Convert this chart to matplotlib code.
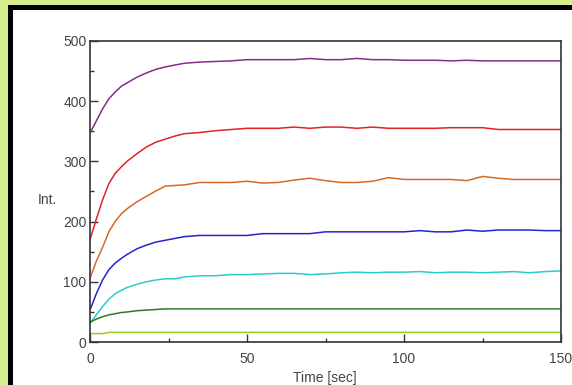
import matplotlib.pyplot as plt
from matplotlib.patches import Rectangle
from matplotlib.ticker import MultipleLocator

plt.rcParams["font.family"] = ["Liberation Sans", "DejaVu Sans"]

# tiempos de muestreo [sec]
tiempo = [0, 2, 4, 6, 8, 10, 12, 15, 18, 21, 24, 27, 30, 35, 40, 45, 50, 55, 60,
          65, 70, 75, 80, 85, 90, 95, 100, 105, 110, 115, 120, 125, 130, 135, 140, 145, 150]

# intensidades
morado = [347, 367, 387, 404, 415, 425, 431, 440, 447, 453, 457, 460, 463, 465, 466, 467, 469, 469, 469,
          469, 471, 469, 469, 471, 469, 469, 468, 468, 468, 467, 468, 467, 467, 467, 467, 467, 467]
rojo = [170, 204, 236, 263, 280, 291, 301, 313, 324, 332, 337, 342, 346, 348, 351, 353, 355, 355, 355,
        357, 355, 357, 357, 355, 357, 355, 355, 355, 355, 356, 356, 356, 353, 353, 353, 353, 353]
naranja = [106, 134, 157, 183, 200, 213, 222, 233, 242, 251, 259, 260, 261, 265, 265, 265, 267, 264, 265,
           269, 272, 268, 265, 265, 267, 273, 270, 270, 270, 270, 268, 275, 272, 270, 270, 270, 270]
azul = [53, 80, 103, 120, 131, 139, 146, 155, 161, 166, 169, 172, 175, 177, 177, 177, 177, 180, 180,
        180, 180, 183, 183, 183, 183, 183, 183, 185, 183, 183, 186, 184, 186, 186, 186, 185, 185]
cian = [31, 45, 59, 71, 80, 86, 91, 96, 100, 103, 105, 105, 108, 110, 110, 112, 112, 113, 114,
        114, 112, 113, 115, 116, 115, 116, 116, 117, 115, 116, 116, 115, 116, 117, 115, 117, 118]
verde = [33, 38, 42, 45, 47, 49, 50, 52, 53, 54, 55, 55, 55, 55, 55, 55, 55, 55, 55,
         55, 55, 55, 55, 55, 55, 55, 55, 55, 55, 55, 55, 55, 55, 55, 55, 55, 55]
amarillo = [14, 14, 14, 16, 16, 16, 16, 16, 16, 16, 16, 16, 16, 16, 16, 16, 16, 16, 16,
            16, 16, 16, 16, 16, 16, 16, 16, 16, 16, 16, 16, 16, 16, 16, 16, 16, 16]

series = [morado, rojo, naranja, azul, cian, verde, amarillo]
colores = ["#862c86", "#e02424", "#d26a2a", "#2424d0", "#2ccccc", "#2e7a2e", "#9ccc1c"]

W, H = 572, 385
fig = plt.figure(figsize=(W / 100, H / 100), dpi=100)
fig.patch.set_facecolor("#d5ee8e")

# * marco negro y panel blanco
fig.patches.append(Rectangle((8 / W, 0), 1, 1 - 5 / H, transform=fig.transFigure,
                             facecolor="black", edgecolor="none", zorder=-10))
fig.patches.append(Rectangle((13 / W, 0), 1, 1 - 10 / H, transform=fig.transFigure,
                             facecolor="white", edgecolor="none", zorder=-9))

ax = fig.add_axes([90 / W, 1 - 342 / H, (561 - 90) / W, (342 - 41) / H])
ax.set_zorder(5)
ax.set_facecolor("none")

for datos, color in zip(series, colores):
    ax.plot(tiempo, datos, color=color, linewidth=1.1)

ax.set_xlim(0, 150)
ax.set_ylim(0, 500)
ax.xaxis.set_major_locator(MultipleLocator(50))
ax.xaxis.set_minor_locator(MultipleLocator(25))
ax.yaxis.set_major_locator(MultipleLocator(100))
ax.yaxis.set_minor_locator(MultipleLocator(50))
ax.tick_params(which="both", direction="in", colors="#333333", labelcolor="#444444",
               labelsize=10, width=1)
ax.tick_params(which="major", length=6)
ax.tick_params(which="minor", length=3)
ax.tick_params(axis="x", pad=7)
ax.tick_params(axis="y", pad=2.5)
for lado in ax.spines.values():
    lado.set_color("#333333")
    lado.set_linewidth(1.2)

fig.text(47 / W, 1 - 200 / H, "Int.", ha="center", va="center", fontsize=10, color="#444444", zorder=6)
fig.text(325 / W, 1 - 378 / H, "Time [sec]", ha="center", va="center", fontsize=10, color="#444444", zorder=6)

plt.savefig("out.png", dpi=100)
